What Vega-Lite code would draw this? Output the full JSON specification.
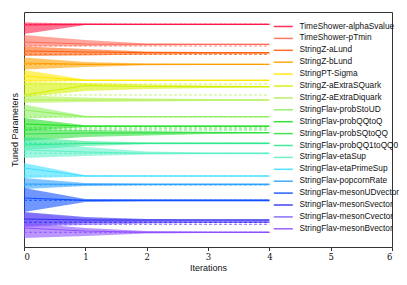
{
"$schema": "https://vega.github.io/schema/vega-lite/v6.json",
"width": 368, "height": 235,
"autosize": {"type": "none"},
"padding": {"left": 24, "top": 12, "right": 15, "bottom": 38},
"background": "white",
"config": {"view": {"stroke": "#333333", "strokeWidth": 1}, "font": "Liberation Sans",
"legend": {"orient": "none", "legendX": 253.8, "legendY": 9, "title": null, "symbolType": "M-2,0H2", "symbolSize": 90, "symbolStrokeWidth": 1.5, "symbolOpacity": 0.9, "labelFont": "Liberation Sans", "labelFontSize": 8.3, "labelColor": "#111111", "labelOffset": 10.7, "rowPadding": 2.9, "padding": 0, "labelLimit": 200}},
"datasets": {
"bands": [
{"param":"TimeShower-alphaSvalue","iteration":0,"low":22.5,"high":34,"value":25},
{"param":"TimeShower-alphaSvalue","iteration":1,"low":23.6,"high":25,"value":24.3},
{"param":"TimeShower-alphaSvalue","iteration":2,"low":23.8,"high":24.8,"value":24.3},
{"param":"TimeShower-alphaSvalue","iteration":3,"low":23.8,"high":24.8,"value":24.3},
{"param":"TimeShower-alphaSvalue","iteration":4,"low":23.8,"high":24.8,"value":24.3},
{"param":"TimeShower-pTmin","iteration":0,"low":35,"high":46.5,"value":42},
{"param":"TimeShower-pTmin","iteration":1,"low":40,"high":46,"value":44},
{"param":"TimeShower-pTmin","iteration":2,"low":43.5,"high":45.5,"value":44.3},
{"param":"TimeShower-pTmin","iteration":3,"low":43.7,"high":45,"value":44.3},
{"param":"TimeShower-pTmin","iteration":4,"low":43.7,"high":45,"value":44.3},
{"param":"StringZ-aLund","iteration":0,"low":46.5,"high":56,"value":51},
{"param":"StringZ-aLund","iteration":1,"low":49,"high":55.5,"value":52},
{"param":"StringZ-aLund","iteration":2,"low":51.5,"high":54.5,"value":52.7},
{"param":"StringZ-aLund","iteration":3,"low":52,"high":54,"value":52.7},
{"param":"StringZ-aLund","iteration":4,"low":52,"high":53.8,"value":52.7},
{"param":"StringZ-bLund","iteration":0,"low":57.5,"high":69.5,"value":63},
{"param":"StringZ-bLund","iteration":1,"low":62,"high":67,"value":64.3},
{"param":"StringZ-bLund","iteration":2,"low":63.5,"high":65.2,"value":64.3},
{"param":"StringZ-bLund","iteration":3,"low":63.7,"high":65,"value":64.3},
{"param":"StringZ-bLund","iteration":4,"low":63.7,"high":65,"value":64.3},
{"param":"StringPT-Sigma","iteration":0,"low":70,"high":82,"value":76},
{"param":"StringPT-Sigma","iteration":1,"low":79.5,"high":81,"value":80.3},
{"param":"StringPT-Sigma","iteration":2,"low":79.7,"high":81,"value":80.3},
{"param":"StringPT-Sigma","iteration":3,"low":79.7,"high":81,"value":80.3},
{"param":"StringPT-Sigma","iteration":4,"low":79.7,"high":81,"value":80.3},
{"param":"StringZ-aExtraSQuark","iteration":0,"low":82,"high":97,"value":95},
{"param":"StringZ-aExtraSQuark","iteration":1,"low":83,"high":91,"value":85.5},
{"param":"StringZ-aExtraSQuark","iteration":2,"low":84.5,"high":89,"value":86.5},
{"param":"StringZ-aExtraSQuark","iteration":3,"low":85.5,"high":88,"value":86.7},
{"param":"StringZ-aExtraSQuark","iteration":4,"low":86,"high":87.5,"value":86.7},
{"param":"StringZ-aExtraDiquark","iteration":0,"low":95.5,"high":103,"value":100},
{"param":"StringZ-aExtraDiquark","iteration":1,"low":97.5,"high":102,"value":100},
{"param":"StringZ-aExtraDiquark","iteration":2,"low":98.5,"high":101.5,"value":100},
{"param":"StringZ-aExtraDiquark","iteration":3,"low":99,"high":101,"value":100},
{"param":"StringZ-aExtraDiquark","iteration":4,"low":99.3,"high":100.7,"value":100},
{"param":"StringFlav-probStoUD","iteration":0,"low":104.5,"high":118,"value":110},
{"param":"StringFlav-probStoUD","iteration":1,"low":116,"high":117.5,"value":116.7},
{"param":"StringFlav-probStoUD","iteration":2,"low":116.1,"high":117.3,"value":116.7},
{"param":"StringFlav-probStoUD","iteration":3,"low":116.1,"high":117.3,"value":116.7},
{"param":"StringFlav-probStoUD","iteration":4,"low":116.1,"high":117.3,"value":116.7},
{"param":"StringFlav-probQQtoQ","iteration":0,"low":118,"high":131,"value":124},
{"param":"StringFlav-probQQtoQ","iteration":1,"low":125.3,"high":127,"value":126.2},
{"param":"StringFlav-probQQtoQ","iteration":2,"low":125.5,"high":126.9,"value":126.2},
{"param":"StringFlav-probQQtoQ","iteration":3,"low":125.5,"high":126.9,"value":126.2},
{"param":"StringFlav-probQQtoQ","iteration":4,"low":125.5,"high":126.9,"value":126.2},
{"param":"StringFlav-probSQtoQQ","iteration":0,"low":129,"high":141,"value":134},
{"param":"StringFlav-probSQtoQQ","iteration":1,"low":130,"high":137,"value":133},
{"param":"StringFlav-probSQtoQQ","iteration":2,"low":131,"high":135.5,"value":132.8},
{"param":"StringFlav-probSQtoQQ","iteration":3,"low":131.8,"high":134,"value":132.7},
{"param":"StringFlav-probSQtoQQ","iteration":4,"low":132,"high":133.5,"value":132.7},
{"param":"StringFlav-probQQ1toQQ0","iteration":0,"low":137,"high":150,"value":145},
{"param":"StringFlav-probQQ1toQQ0","iteration":1,"low":141,"high":146,"value":143.5},
{"param":"StringFlav-probQQ1toQQ0","iteration":2,"low":142.5,"high":144.2,"value":143.3},
{"param":"StringFlav-probQQ1toQQ0","iteration":3,"low":142.5,"high":144.2,"value":143.3},
{"param":"StringFlav-probQQ1toQQ0","iteration":4,"low":142.5,"high":144.2,"value":143.3},
{"param":"StringFlav-etaSup","iteration":0,"low":141,"high":158,"value":150},
{"param":"StringFlav-etaSup","iteration":1,"low":147,"high":156,"value":152},
{"param":"StringFlav-etaSup","iteration":2,"low":151.5,"high":154.5,"value":153.3},
{"param":"StringFlav-etaSup","iteration":3,"low":152.5,"high":154.2,"value":153.3},
{"param":"StringFlav-etaSup","iteration":4,"low":152.5,"high":154.2,"value":153.3},
{"param":"StringFlav-etaPrimeSup","iteration":0,"low":163,"high":178,"value":168},
{"param":"StringFlav-etaPrimeSup","iteration":1,"low":175.3,"high":176.8,"value":176},
{"param":"StringFlav-etaPrimeSup","iteration":2,"low":175.4,"high":176.6,"value":176},
{"param":"StringFlav-etaPrimeSup","iteration":3,"low":175.4,"high":176.6,"value":176},
{"param":"StringFlav-etaPrimeSup","iteration":4,"low":175.4,"high":176.6,"value":176},
{"param":"StringFlav-popcornRate","iteration":0,"low":178,"high":189,"value":184},
{"param":"StringFlav-popcornRate","iteration":1,"low":183,"high":186,"value":184.3},
{"param":"StringFlav-popcornRate","iteration":2,"low":183.5,"high":185.2,"value":184.3},
{"param":"StringFlav-popcornRate","iteration":3,"low":183.5,"high":185.2,"value":184.3},
{"param":"StringFlav-popcornRate","iteration":4,"low":183.5,"high":185.2,"value":184.3},
{"param":"StringFlav-mesonUDvector","iteration":0,"low":188,"high":212,"value":198},
{"param":"StringFlav-mesonUDvector","iteration":1,"low":199,"high":202,"value":200.3},
{"param":"StringFlav-mesonUDvector","iteration":2,"low":199.3,"high":201.5,"value":200.3},
{"param":"StringFlav-mesonUDvector","iteration":3,"low":199.3,"high":201.5,"value":200.3},
{"param":"StringFlav-mesonUDvector","iteration":4,"low":199.3,"high":201.5,"value":200.3},
{"param":"StringFlav-mesonSvector","iteration":0,"low":212,"high":226,"value":219},
{"param":"StringFlav-mesonSvector","iteration":1,"low":217,"high":223,"value":220},
{"param":"StringFlav-mesonSvector","iteration":2,"low":219,"high":221.5,"value":220},
{"param":"StringFlav-mesonSvector","iteration":3,"low":219.3,"high":221,"value":220},
{"param":"StringFlav-mesonSvector","iteration":4,"low":219.3,"high":221,"value":220},
{"param":"StringFlav-mesonCvector","iteration":0,"low":213,"high":227,"value":221},
{"param":"StringFlav-mesonCvector","iteration":1,"low":218,"high":225,"value":222},
{"param":"StringFlav-mesonCvector","iteration":2,"low":220.5,"high":223.5,"value":222.2},
{"param":"StringFlav-mesonCvector","iteration":3,"low":221,"high":223,"value":222.2},
{"param":"StringFlav-mesonCvector","iteration":4,"low":221,"high":223,"value":222.2},
{"param":"StringFlav-mesonBvector","iteration":0,"low":223,"high":238,"value":228},
{"param":"StringFlav-mesonBvector","iteration":1,"low":228,"high":236,"value":231},
{"param":"StringFlav-mesonBvector","iteration":2,"low":231,"high":233.5,"value":232.3},
{"param":"StringFlav-mesonBvector","iteration":3,"low":231.6,"high":233,"value":232.3},
{"param":"StringFlav-mesonBvector","iteration":4,"low":231.6,"high":233,"value":232.3}
],
"targets": [
{"param":"TimeShower-alphaSvalue","start":0,"end":4,"target":24.3},
{"param":"TimeShower-pTmin","start":0,"end":4,"target":46},
{"param":"StringZ-aLund","start":0,"end":4,"target":54.3},
{"param":"StringZ-bLund","start":0,"end":4,"target":64.5},
{"param":"StringPT-Sigma","start":0,"end":4,"target":80.3},
{"param":"StringZ-aExtraSQuark","start":0,"end":4,"target":84},
{"param":"StringZ-aExtraDiquark","start":0,"end":4,"target":95},
{"param":"StringFlav-probStoUD","start":0,"end":4,"target":117},
{"param":"StringFlav-probQQtoQ","start":0,"end":4,"target":128},
{"param":"StringFlav-probSQtoQQ","start":0,"end":4,"target":130},
{"param":"StringFlav-probQQ1toQQ0","start":0,"end":4,"target":143.3},
{"param":"StringFlav-etaSup","start":0,"end":4,"target":153.3},
{"param":"StringFlav-etaPrimeSup","start":0,"end":4,"target":176},
{"param":"StringFlav-popcornRate","start":0,"end":4,"target":184.8},
{"param":"StringFlav-mesonUDvector","start":0,"end":4,"target":200.3},
{"param":"StringFlav-mesonSvector","start":0,"end":4,"target":222.3},
{"param":"StringFlav-mesonCvector","start":0,"end":4,"target":224.3},
{"param":"StringFlav-mesonBvector","start":0,"end":4,"target":232.3}
]
},
"layer": [
{
"data": {"name": "bands"},
"mark": {"type": "area", "opacity": 0.6},
"encoding": {
"x": {"field": "iteration", "type": "quantitative", "scale": {"domain": [0, 6], "nice": false},
"axis": {"values": [0,1,2,3,4,5,6], "format": "d", "grid": false, "domain": false, "tickSize": 3.5, "tickColor": "#333333", "labelFont": "DejaVu Serif", "labelFontSize": 8.5, "labelColor": "#111111", "labelPadding": 1.5, "title": "Iterations", "titleFont": "Liberation Sans", "titleFontSize": 9, "titleFontWeight": "normal", "titleColor": "#111111", "titlePadding": 3}},
"y": {"field": "low", "type": "quantitative", "scale": {"domain": [12, 247], "reverse": true, "nice": false, "zero": false},
"axis": {"labels": false, "ticks": false, "domain": false, "grid": false, "title": "Tuned Parameters", "titleFont": "Liberation Sans", "titleFontSize": 9, "titleFontWeight": "normal", "titleColor": "#111111", "titlePadding": 5}},
"y2": {"field": "high"},
"color": {"field": "param", "type": "nominal"}
}
},
{
"data": {"name": "bands"},
"mark": {"type": "line", "strokeWidth": 1.2},
"encoding": {
"x": {"field": "iteration", "type": "quantitative"},
"y": {"field": "value", "type": "quantitative"},
"color": {"field": "param", "type": "nominal",
"scale": {"domain": ["TimeShower-alphaSvalue","TimeShower-pTmin","StringZ-aLund","StringZ-bLund","StringPT-Sigma","StringZ-aExtraSQuark","StringZ-aExtraDiquark","StringFlav-probStoUD","StringFlav-probQQtoQ","StringFlav-probSQtoQQ","StringFlav-probQQ1toQQ0","StringFlav-etaSup","StringFlav-etaPrimeSup","StringFlav-popcornRate","StringFlav-mesonUDvector","StringFlav-mesonSvector","StringFlav-mesonCvector","StringFlav-mesonBvector"],
"range": ["#ff1a4a","#ff6a5a","#ff6010","#ffa000","#ffe800","#d4f000","#b0f050","#90f060","#20e020","#30e040","#30e890","#60f0c8","#40e0ff","#30a0ff","#1050ff","#3030f0","#8060ff","#9050ff"]}}
}
},
{
"data": {"name": "targets"},
"mark": {"type": "rule", "strokeDash": [3, 2], "strokeWidth": 1.2, "opacity": 0.75},
"encoding": {
"x": {"field": "start", "type": "quantitative"},
"x2": {"field": "end"},
"y": {"field": "target", "type": "quantitative"},
"color": {"field": "param", "type": "nominal"}
}
}
]
}
